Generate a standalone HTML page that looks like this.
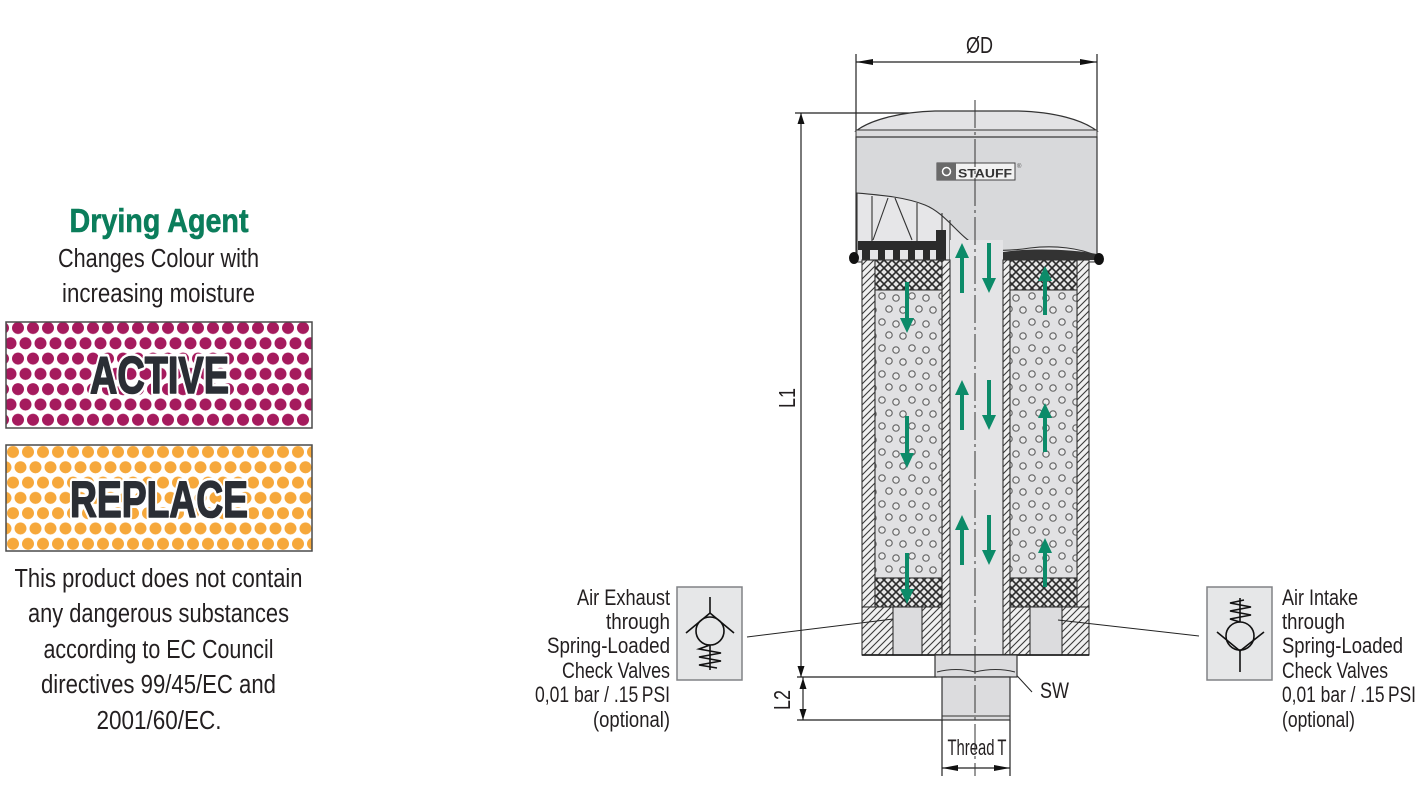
<!DOCTYPE html>
<html><head><meta charset="utf-8"><style>
html,body{margin:0;padding:0;background:#fff;}
svg{display:block;}
text{font-family:"Liberation Sans",sans-serif;}
</style></head><body>
<svg width="1417" height="803" viewBox="0 0 1417 803" xmlns="http://www.w3.org/2000/svg">
<defs>
<pattern id="pm" patternUnits="userSpaceOnUse" x="10.5" y="320.35" width="15" height="30.6">
 <circle cx="7.5" cy="7.65" r="6" fill="#a51a5d"/>
 <circle cx="0" cy="22.95" r="6" fill="#a51a5d"/>
 <circle cx="15" cy="22.95" r="6" fill="#a51a5d"/>
</pattern>
<pattern id="po" patternUnits="userSpaceOnUse" x="5.5" y="444.35" width="15" height="30.6">
 <circle cx="7.5" cy="7.65" r="6" fill="#f6a83b"/>
 <circle cx="0" cy="22.95" r="6" fill="#f6a83b"/>
 <circle cx="15" cy="22.95" r="6" fill="#f6a83b"/>
</pattern>
<pattern id="hatch" patternUnits="userSpaceOnUse" width="7" height="7">
 <rect width="7" height="7" fill="#f0f0f0"/>
 <path d="M-1,8 L8,-1 M-1,1 L1,-1 M6,8 L8,6" stroke="#3a3a3a" stroke-width="1.1"/>
</pattern>
<pattern id="xh" patternUnits="userSpaceOnUse" width="8" height="8">
 <rect width="8" height="8" fill="#e6e6e6"/>
 <path d="M0,0 L8,8 M8,0 L0,8" stroke="#2a2a2a" stroke-width="1.6"/>
</pattern>
<pattern id="dots" patternUnits="userSpaceOnUse" x="875" y="290" width="30" height="26">
 <rect width="30" height="26" fill="#e1e1e3"/>
 <g fill="#ececed" stroke="#666" stroke-width="1.2">
  <circle cx="7" cy="6" r="3.2"/><circle cx="21" cy="8" r="3.2"/><circle cx="14" cy="19" r="3.2"/><circle cx="28" cy="20" r="3.2"/><circle cx="-2" cy="20" r="3.2"/>
 </g>
</pattern>
</defs>

<!-- LEFT PANEL -->
<text x="159" y="232" font-size="33" font-weight="bold" fill="#0b7d5b" stroke="#0b7d5b" stroke-width="0.6" text-anchor="middle" textLength="179" lengthAdjust="spacingAndGlyphs">Drying Agent</text>
<text x="158.5" y="267" font-size="25.5" fill="#231f20" text-anchor="middle" textLength="201" lengthAdjust="spacingAndGlyphs">Changes Colour with</text>
<text x="158.5" y="302" font-size="25.5" fill="#231f20" text-anchor="middle" textLength="193" lengthAdjust="spacingAndGlyphs">increasing moisture</text>

<rect x="6" y="322" width="306" height="106" fill="#fff"/>
<rect x="6" y="322" width="306" height="106" fill="url(#pm)" stroke="#4a4a4a" stroke-width="1.5"/>
<text x="159.5" y="393" font-size="52" font-weight="bold" fill="#2b2e35" stroke="#fff" stroke-width="7" stroke-linejoin="round" paint-order="stroke" text-anchor="middle" textLength="139" lengthAdjust="spacingAndGlyphs">ACTIVE</text>
<text x="159.5" y="393" font-size="52" font-weight="bold" fill="#2b2e35" stroke="#2b2e35" stroke-width="1.6" stroke-linejoin="round" text-anchor="middle" textLength="139" lengthAdjust="spacingAndGlyphs">ACTIVE</text>

<rect x="6" y="445" width="306" height="106" fill="#fff"/>
<rect x="6" y="445" width="306" height="106" fill="url(#po)" stroke="#4a4a4a" stroke-width="1.5"/>
<text x="159" y="517" font-size="51" font-weight="bold" fill="#2b2e35" stroke="#fff" stroke-width="7" stroke-linejoin="round" paint-order="stroke" text-anchor="middle" textLength="178" lengthAdjust="spacingAndGlyphs">REPLACE</text>
<text x="159" y="517" font-size="51" font-weight="bold" fill="#2b2e35" stroke="#2b2e35" stroke-width="1.6" stroke-linejoin="round" text-anchor="middle" textLength="178" lengthAdjust="spacingAndGlyphs">REPLACE</text>

<g font-size="25.5" fill="#231f20" text-anchor="middle">
<text x="158.5" y="587" textLength="288" lengthAdjust="spacingAndGlyphs">This product does not contain</text>
<text x="158.5" y="622" textLength="261" lengthAdjust="spacingAndGlyphs">any dangerous substances</text>
<text x="158.5" y="658" textLength="230" lengthAdjust="spacingAndGlyphs">according to EC Council</text>
<text x="158.5" y="693" textLength="235" lengthAdjust="spacingAndGlyphs">directives 99/45/EC and</text>
<text x="159" y="729" textLength="125" lengthAdjust="spacingAndGlyphs">2001/60/EC.</text>
</g>

<!-- DIMENSIONS -->
<g stroke="#222" stroke-width="1.2" fill="none">
 <line x1="856" y1="54" x2="856" y2="131"/>
 <line x1="1097" y1="54" x2="1097" y2="131"/>
 <line x1="856" y1="62" x2="1097" y2="62"/>
 <line x1="795" y1="113" x2="932" y2="113"/>
 <line x1="801" y1="113" x2="801" y2="677"/>
 <line x1="797" y1="677" x2="937" y2="677"/>
 <line x1="797" y1="720" x2="943" y2="720"/>
 <line x1="803" y1="677" x2="803" y2="720"/>
 <line x1="942" y1="720" x2="942" y2="776"/>
 <line x1="1010" y1="720" x2="1010" y2="776"/>
 <line x1="942" y1="768" x2="1010" y2="768"/>
</g>
<g fill="#111">
 <polygon points="856,62 873,59 873,65"/>
 <polygon points="1097,62 1080,59 1080,65"/>
 <polygon points="801,113 797.5,124 804.5,124"/>
 <polygon points="801,677 797.5,666 804.5,666"/>
 <polygon points="803,678 799.5,689 806.5,689"/>
 <polygon points="803,720 799.5,709 806.5,709"/>
 <polygon points="942,768 958,765 958,771"/>
 <polygon points="1010,768 994,765 994,771"/>
</g>
<text x="979.5" y="53" font-size="23" fill="#231f20" text-anchor="middle" textLength="27" lengthAdjust="spacingAndGlyphs">ØD</text>
<text transform="translate(795,398) rotate(-90)" font-size="23" fill="#231f20" text-anchor="middle" textLength="20" lengthAdjust="spacingAndGlyphs">L1</text>
<text transform="translate(790,700) rotate(-90)" font-size="23" fill="#231f20" text-anchor="middle" textLength="20" lengthAdjust="spacingAndGlyphs">L2</text>
<text x="977" y="755" font-size="22" fill="#231f20" text-anchor="middle" textLength="59" lengthAdjust="spacingAndGlyphs">Thread&#8201;T</text>
<text x="1040" y="698" font-size="22" fill="#231f20" textLength="29" lengthAdjust="spacingAndGlyphs">SW</text>
<line x1="1008" y1="666" x2="1032" y2="692" stroke="#222" stroke-width="1"/>

<!-- CAP -->
<path d="M856,131 C870,120 900,112 935,111 L1018,111 C1055,112 1083,120 1097,131 Z" fill="#e3e3e5" stroke="#333" stroke-width="1.2"/>
<rect x="856" y="130" width="241" height="7" fill="#dcdcde" stroke="#333" stroke-width="1"/>
<rect x="856" y="137" width="241" height="120" fill="#d8d9db" stroke="#333" stroke-width="1.2"/>
<!-- cutaway -->
<path d="M857,193 C880,195 905,197 925,205 C945,213 958,235 975,245 C990,252 1010,251 1030,248 C1055,245 1080,248 1097,256 L1097,262 L857,262 Z" fill="#e6e6e8" stroke="#333" stroke-width="1.1"/>
<g stroke="#333" stroke-width="1.1" fill="none">
 <line x1="872" y1="196" x2="872" y2="242"/>
 <line x1="917" y1="203" x2="917" y2="242"/>
 <line x1="888" y1="198" x2="873" y2="240"/>
 <line x1="895" y1="198" x2="912" y2="240"/>
 <line x1="942" y1="213" x2="942" y2="260"/>
 <line x1="950" y1="220" x2="950" y2="260"/>
</g>
<rect x="858" y="241" width="80" height="9" fill="#2b2b2b"/>
<rect x="936" y="230" width="10" height="33" fill="#2b2b2b"/>
<g fill="#2b2b2b">
 <rect x="862" y="250" width="8" height="10"/><rect x="878" y="250" width="7" height="10"/><rect x="893" y="250" width="7" height="10"/><rect x="908" y="250" width="7" height="10"/><rect x="923" y="250" width="7" height="10"/>
</g>
<path d="M1003,252 C1030,248 1070,249 1097,254 L1097,260 L1003,260 Z" fill="#333"/>
<ellipse cx="854" cy="258" rx="5" ry="6" fill="#111"/>
<ellipse cx="1099" cy="259" rx="5" ry="6" fill="#111"/>

<!-- STAUFF logo -->
<rect x="937" y="163" width="78" height="17" fill="#f2f2f2" stroke="#444" stroke-width="1"/>
<rect x="937" y="163" width="19" height="17" fill="#6a6a6a"/>
<circle cx="946.5" cy="171.5" r="4" fill="none" stroke="#fff" stroke-width="1.5"/>
<text x="958" y="177.5" font-size="12" font-weight="bold" fill="#333" textLength="54" lengthAdjust="spacingAndGlyphs">STAUFF</text>
<text x="1017" y="168" font-size="6" fill="#555">®</text>

<!-- BODY -->
<rect x="950" y="240" width="53" height="415" fill="#e4e4e6"/>
<rect x="862" y="260" width="13" height="347" fill="url(#hatch)" stroke="#333" stroke-width="1.1"/>
<rect x="1077" y="260" width="12" height="347" fill="url(#hatch)" stroke="#333" stroke-width="1.1"/>
<rect x="942" y="260" width="8" height="395" fill="url(#hatch)" stroke="#333" stroke-width="1.1"/>
<rect x="1003" y="260" width="7" height="395" fill="url(#hatch)" stroke="#333" stroke-width="1.1"/>
<rect x="875" y="260" width="67" height="30" fill="url(#xh)" stroke="#333" stroke-width="1.1"/>
<rect x="1010" y="260" width="67" height="30" fill="url(#xh)" stroke="#333" stroke-width="1.1"/>
<rect x="875" y="290" width="67" height="288" fill="url(#dots)" stroke="#333" stroke-width="1.1"/>
<rect x="1010" y="290" width="67" height="288" fill="url(#dots)" stroke="#333" stroke-width="1.1"/>
<rect x="875" y="578" width="67" height="29" fill="url(#xh)" stroke="#333" stroke-width="1.1"/>
<rect x="1010" y="578" width="67" height="29" fill="url(#xh)" stroke="#333" stroke-width="1.1"/>
<rect x="862" y="607" width="80" height="48" fill="url(#hatch)" stroke="#333" stroke-width="1.1"/>
<rect x="1010" y="607" width="79" height="48" fill="url(#hatch)" stroke="#333" stroke-width="1.1"/>
<rect x="893" y="607" width="29" height="48" fill="#dcdcde" stroke="#333" stroke-width="1.1"/>
<rect x="1030" y="607" width="32" height="48" fill="#dcdcde" stroke="#333" stroke-width="1.1"/>
<line x1="862" y1="655" x2="1089" y2="655" stroke="#222" stroke-width="1.8"/>

<!-- nut & stem -->
<rect x="935" y="655" width="82" height="22" fill="#dcdcde" stroke="#333" stroke-width="1.2"/>
<path d="M937,672 Q956,667 975,672 Q996,667 1015,672" fill="none" stroke="#333" stroke-width="1"/>
<rect x="942" y="677" width="68" height="43" fill="#dcdcde" stroke="#333" stroke-width="1.2"/>
<line x1="942" y1="716" x2="1010" y2="716" stroke="#333" stroke-width="1"/>

<!-- center line -->
<line x1="975" y1="100" x2="975" y2="776" stroke="#333" stroke-width="1" stroke-dasharray="28 4 3 4"/>

<!-- GREEN ARROWS -->
<g fill="#0c8b69">
 <rect x="960" y="256" width="4" height="37"/><polygon points="955,258 969,258 962,243"/>
 <rect x="960" y="393" width="4" height="37"/><polygon points="955,395 969,395 962,380"/>
 <rect x="960" y="528" width="4" height="37"/><polygon points="955,530 969,530 962,515"/>
 <rect x="987" y="243" width="4" height="37"/><polygon points="982,278 996,278 989,293"/>
 <rect x="987" y="380" width="4" height="37"/><polygon points="982,415 996,415 989,430"/>
 <rect x="987" y="515" width="4" height="37"/><polygon points="982,550 996,550 989,565"/>
 <rect x="905" y="282" width="4" height="38"/><polygon points="900,318 914,318 907,333"/>
 <rect x="905" y="416" width="4" height="38"/><polygon points="900,453 914,453 907,468"/>
 <rect x="905" y="553" width="4" height="38"/><polygon points="900,589 914,589 907,604"/>
 <rect x="1043" y="279" width="4" height="36"/><polygon points="1038,281 1052,281 1045,266"/>
 <rect x="1043" y="416" width="4" height="36"/><polygon points="1038,418 1052,418 1045,403"/>
 <rect x="1043" y="551" width="4" height="36"/><polygon points="1038,553 1052,553 1045,538"/>
</g>

<!-- CHECK VALVES -->
<rect x="677" y="587" width="65" height="93" fill="#e6e7e8" stroke="#808285" stroke-width="1.5"/>
<g stroke="#111" stroke-width="1.6" fill="none">
 <line x1="710" y1="597" x2="710" y2="614"/>
 <polyline points="686,633 710,613 734,633"/>
 <circle cx="710" cy="631" r="14"/>
 <line x1="710" y1="645" x2="710" y2="670"/>
 <polyline points="710,645 699,649 721,653 699,657 721,661 699,665 717,668"/>
</g>
<rect x="1207" y="587" width="65" height="93" fill="#e6e7e8" stroke="#808285" stroke-width="1.5"/>
<g stroke="#111" stroke-width="1.6" fill="none">
 <line x1="1240" y1="598" x2="1240" y2="622"/>
 <polyline points="1244,600 1230,603 1251,607 1230,611 1251,615 1230,619 1240,622"/>
 <circle cx="1240" cy="636" r="14"/>
 <polyline points="1217,632 1240,651 1264,632"/>
 <line x1="1240" y1="650" x2="1240" y2="672"/>
</g>
<line x1="747" y1="637" x2="893" y2="619" stroke="#222" stroke-width="1"/>
<line x1="1058" y1="620" x2="1199" y2="636" stroke="#222" stroke-width="1"/>

<g font-size="22" fill="#231f20" text-anchor="end">
<text x="670" y="605" textLength="93" lengthAdjust="spacingAndGlyphs">Air Exhaust</text>
<text x="670" y="629" textLength="64" lengthAdjust="spacingAndGlyphs">through</text>
<text x="670" y="653" textLength="123" lengthAdjust="spacingAndGlyphs">Spring-Loaded</text>
<text x="670" y="678" textLength="108" lengthAdjust="spacingAndGlyphs">Check Valves</text>
<text x="670" y="702" textLength="135" lengthAdjust="spacingAndGlyphs">0,01 bar / .15&#8201;PSI</text>
<text x="670" y="727" textLength="77" lengthAdjust="spacingAndGlyphs">(optional)</text>
</g>
<g font-size="22" fill="#231f20">
<text x="1282" y="605" textLength="76" lengthAdjust="spacingAndGlyphs">Air Intake</text>
<text x="1282" y="629" textLength="63" lengthAdjust="spacingAndGlyphs">through</text>
<text x="1282" y="653" textLength="121" lengthAdjust="spacingAndGlyphs">Spring-Loaded</text>
<text x="1282" y="678" textLength="106" lengthAdjust="spacingAndGlyphs">Check Valves</text>
<text x="1282" y="702" textLength="134" lengthAdjust="spacingAndGlyphs">0,01 bar / .15&#8201;PSI</text>
<text x="1282" y="727" textLength="73" lengthAdjust="spacingAndGlyphs">(optional)</text>
</g>
</svg>
</body></html>
